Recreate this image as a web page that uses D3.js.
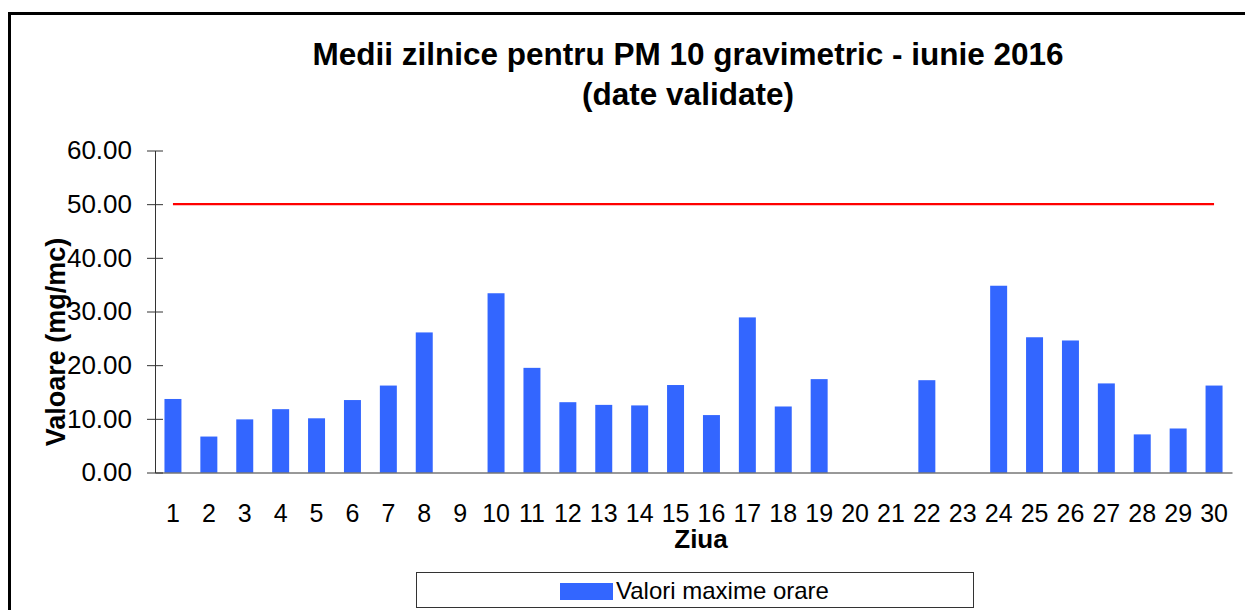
<!DOCTYPE html>
<html>
<head>
<meta charset="utf-8">
<script src="https://cdn.jsdelivr.net/npm/d3@7"></script>
<style>
  body { margin: 0; background: #fff; }
  svg { display: block; font-family: "Liberation Sans", Arial, sans-serif; }
</style>
</head>
<body>
<div class="container"></div>
<script>
var days = d3.range(1, 31).map(String);
var values = [13.7, 6.7, 9.9, 11.8, 10.1, 13.5, 16.2, 26.1, null, 33.4,
              19.5, 13.1, 12.6, 12.5, 16.3, 10.7, 28.9, 12.3, 17.4, null,
              null, 17.2, null, 34.8, 25.2, 24.6, 16.6, 7.1, 8.2, 16.2];
var limitValue = 50;
var yTicks = [0, 10, 20, 30, 40, 50, 60];
var titleLines = ["Medii zilnice pentru PM 10 gravimetric - iunie 2016", "(date validate)"];
var seriesName = "Valori maxime orare";

var W = 1245, H = 610;
var plotLeft = 155, plotRight = 1232, plotTop = 150.5, plotBottom = 472.5;

var svg = d3.select('.container').append('svg')
	.attr("width", W)
	.attr("height", H);

// frame (left + top edges only visible)
svg.append('path')
	.attr("d", "M9.5," + H + " V13.5 H" + W)
	.attr("fill", "none")
	.attr("stroke", "#000")
	.attr("stroke-width", 3);

var x = d3.scaleBand().domain(days).range([plotLeft, plotRight])
	.paddingInner(0.527).paddingOuter(0.2635);
var y = d3.scaleLinear().domain([0, 60]).range([plotBottom, plotTop]);

// title
svg.append('text')
	.attr("x", 688).attr("y", 65)
	.attr("text-anchor", "middle")
	.attr("font-size", 31.5).attr("font-weight", "bold")
	.text(titleLines[0]);
svg.append('text')
	.attr("x", 688).attr("y", 105)
	.attr("text-anchor", "middle")
	.attr("font-size", 31.5).attr("font-weight", "bold")
	.text(titleLines[1]);

// bars
svg.append('g').selectAll('rect')
	.data(values.map(function(v, i){ return {day: days[i], v: v}; }).filter(function(d){ return d.v != null; }))
	.enter().append('rect')
	.attr("x", function(d){ return x(d.day); })
	.attr("y", function(d){ return y(d.v); })
	.attr("width", x.bandwidth())
	.attr("height", function(d){ return y(0) - y(d.v); })
	.attr("fill", "#3366ff");

// limit line
svg.append('line')
	.attr("x1", x(days[0]) + x.bandwidth()/2)
	.attr("x2", x(days[days.length-1]) + x.bandwidth()/2)
	.attr("y1", y(limitValue)).attr("y2", y(limitValue))
	.attr("stroke", "#ff0000")
	.attr("stroke-width", 2.2);

// y axis
var yAxis = svg.append('g')
	.attr("transform", "translate(" + plotLeft + ",0)")
	.call(d3.axisLeft(y).tickValues(yTicks).tickFormat(d3.format(".2f")).tickSizeOuter(0).tickPadding(17));
yAxis.select('.domain').attr("stroke", "#333");
yAxis.selectAll('.tick line').attr("x1", -8).attr("x2", 8).attr("stroke", "#333");
yAxis.selectAll('.tick text')
	.attr("font-size", 26).attr("fill", "#000")
	.attr("font-family", "Liberation Sans, Arial, sans-serif");

// x axis
var xAxis = svg.append('g')
	.attr("transform", "translate(0," + plotBottom + ")")
	.call(d3.axisBottom(x).tickSize(0).tickPadding(32));
xAxis.select('.domain').attr("stroke", "#333");
xAxis.selectAll('.tick text')
	.attr("font-size", 25).attr("fill", "#000")
	.attr("font-family", "Liberation Sans, Arial, sans-serif");

// axis titles
svg.append('text')
	.attr("x", 701).attr("y", 548)
	.attr("text-anchor", "middle")
	.attr("font-size", 26).attr("font-weight", "bold")
	.text("Ziua");
svg.append('text')
	.attr("transform", "translate(65,342) rotate(-90)")
	.attr("text-anchor", "middle")
	.attr("font-size", 27).attr("font-weight", "bold")
	.text("Valoare (mg/mc)");

// legend
var legend = svg.append('g');
legend.append('rect')
	.attr("x", 416.5).attr("y", 572.5)
	.attr("width", 557).attr("height", 35)
	.attr("fill", "#fff").attr("stroke", "#333");
legend.append('rect')
	.attr("x", 560).attr("y", 583)
	.attr("width", 53).attr("height", 17)
	.attr("fill", "#3366ff");
legend.append('text')
	.attr("x", 616).attr("y", 599)
	.attr("font-size", 24)
	.text(seriesName);
</script>
</body>
</html>
